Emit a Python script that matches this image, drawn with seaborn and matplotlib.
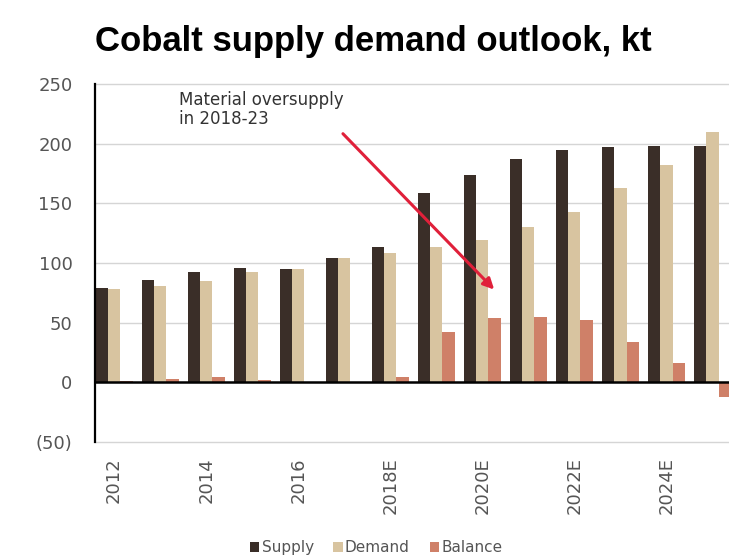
import matplotlib
matplotlib.use("Agg")
import matplotlib.pyplot as plt
import seaborn as sns
import pandas as pd

# Cobalt supply / demand data, kt
years = ["2012", "2013", "2014", "2015", "2016", "2017", "2018E",
         "2019E", "2020E", "2021E", "2022E", "2023E", "2024E", "2025E"]
supply = [79, 86, 92, 96, 95, 104, 113, 159, 174, 187, 195, 197, 198, 198]
demand = [78, 81, 85, 92, 95, 104, 108, 113, 119, 130, 143, 163, 182, 210]
balance = [1, 3, 4, 2, 0, 0, 4, 42, 54, 55, 52, 34, 16, -12]
tick_labels = [y if i % 2 == 0 else "" for i, y in enumerate(years)]

colors = {"Supply": "#3a2e28", "Demand": "#d8c4a0", "Balance": "#cf8068"}

df = pd.DataFrame({"year": years, "Supply": supply, "Demand": demand, "Balance": balance})
long_df = df.melt(id_vars="year", var_name="series", value_name="kt")

sns.set_style("white")
plt.rcParams["font.family"] = ["DejaVu Sans"]

fig = plt.figure(figsize=(7.29, 5.6), dpi=100)
ax = fig.add_axes([0.130, 0.211, 0.870, 0.639])

sns.barplot(data=long_df, x="year", y="kt", hue="series", palette=colors,
            width=0.8, saturation=1, linewidth=0, legend=True, ax=ax)

# grid and axes styling
ax.set_ylim(-50, 250)
ax.set_yticks(range(-50, 251, 50))
ax.set_yticklabels(["(50)", "0", "50", "100", "150", "200", "250"])
ax.set_xlim(-0.42, 13.36)
ax.yaxis.grid(True, color="#d5d5d5", linewidth=1)
for gl in ax.get_ygridlines():
    gl.set_clip_on(False)
ax.set_axisbelow(True)
ax.axhline(0, color="black", linewidth=1.8, zorder=5)
for side in ["top", "right", "bottom"]:
    ax.spines[side].set_visible(False)
ax.spines["left"].set_color("black")
ax.spines["left"].set_linewidth(1.6)
ax.set_xticks(range(len(years)))
ax.set_xticklabels(tick_labels, rotation=90)
ax.tick_params(axis="both", length=0, labelsize=13, colors="#555555")
ax.tick_params(axis="y", pad=16)
ax.tick_params(axis="x", pad=11)
ax.set_xlabel("")
ax.set_ylabel("")

# annotation with red arrow
ax.annotate("", xy=(8.3, 76), xytext=(4.93, 210),
            arrowprops=dict(arrowstyle="-|>", color="#e0203a", lw=2.2,
                            mutation_scale=16))
ax.text(1.4, 244, "Material oversupply\nin 2018-23", fontsize=12,
        color="#333333", va="top", ha="left", linespacing=1.05)

# legend at the bottom of the figure
handles, labels = ax.get_legend_handles_labels()
ax.get_legend().remove()
leg = fig.legend(handles, labels, loc="center", bbox_to_anchor=(0.516, 0.022),
                 ncol=3, frameon=False, fontsize=11, handlelength=0.6,
                 handleheight=0.6, handletextpad=0.15, columnspacing=1.3,
                 borderpad=0)
for t in leg.get_texts():
    t.set_color("#555555")

fig.text(0.130, 0.925, "Cobalt supply demand outlook, kt", fontsize=25,
         fontweight="bold", family="Liberation Sans", color="black",
         va="center", ha="left")

fig.savefig("out.png", dpi=100)
